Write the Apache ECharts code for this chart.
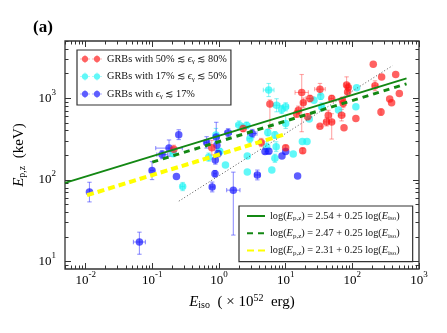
<!DOCTYPE html>
<html>
<head>
<meta charset="utf-8">
<title>Ep,z - Eiso</title>
<style>
  body { margin: 0; background: #ffffff; }
  #main { width: 447px; height: 333px; }
</style>
</head>
<body>
<div id="main"></div>
<script src="https://cdn.jsdelivr.net/npm/echarts@6/dist/echarts.min.js"></script>
<script>
// each row: [Eiso (1e52 erg), Ep,z (keV), x error (dex), y error down (dex), y error up (dex)]
var redGrbs = [
  [0.21, 237, 0, 0.05, 0.05], [0.78, 248, 0, 0.09, 0.09], [2.3, 427, 0, 0.04, 0.04],
  [4.3, 287, 0.03, 0.05, 0.05], [5.8, 850, 0, 0.3, 0.05], [10, 248, 0, 0.03, 0.03],
  [15.5, 714, 0.03, 0.05, 0.05], [14.6, 640, 0, 0.04, 0.04], [17.4, 1175, 0.1, 0.48, 0.22],
  [18.0, 228, 0, 0.03, 0.03], [18.4, 877, 0.03, 0.06, 0.06], [21.4, 592, 0, 0.04, 0.04],
  [23.1, 990, 0.06, 0.04, 0.04], [32.7, 1290, 0.08, 0.07, 0.07], [32.7, 454, 0.03, 0, 0],
  [41, 513, 0.04, 0.05, 0.05], [43.6, 620, 0, 0.06, 0.06], [49, 513, 0.04, 0.21, 0.1],
  [49, 990, 0.03, 0.04, 0.04], [69, 620, 0.05, 0.07, 0.07], [73, 861, 0.03, 0.05, 0.05],
  [75, 434, 0, 0, 0], [82, 1450, 0.03, 0.1, 0.1], [87, 1350, 0.03, 0.05, 0.05],
  [85, 1195, 0, 0.05, 0.05], [71, 946, 0, 0, 0], [113, 565, 0, 0, 0], [206, 2600, 0, 0, 0],
  [219, 1420, 0.04, 0.06, 0.06], [275, 1820, 0, 0, 0], [269, 676, 0, 0.04, 0.04],
  [363, 980, 0, 0, 0], [388, 877, 0, 0, 0], [447, 1950, 0, 0, 0], [507, 1140, 0, 0, 0]
];
var cyanGrbs = [
  [0.206, 211, 0.04, 0.04, 0.04], [0.285, 83, 0.03, 0.05, 0.05], [0.70, 190, 0, 0.05, 0.05],
  [0.90, 355, 0, 0.08, 0.08], [1.03, 222, 0.03, 0.04, 0.04], [1.25, 152, 0, 0, 0],
  [2.0, 470, 0.05, 0.05, 0.05], [2.6, 465, 0.05, 0.04, 0.04], [2.66, 125, 0, 0, 0],
  [2.66, 196, 0, 0, 0], [2.9, 320, 0.03, 0.05, 0.05], [5.56, 1260, 0.08, 0.08, 0.08],
  [5.4, 380, 0, 0.04, 0.04], [5.2, 255, 0, 0.06, 0.06], [6.2, 132, 0, 0, 0],
  [6.9, 184, 0, 0.05, 0.05], [7.2, 255, 0, 0.06, 0.06], [6.9, 355, 0, 0.04, 0.04],
  [7.3, 820, 0.05, 0.08, 0.08], [8.7, 728, 0, 0.05, 0.05], [10, 785, 0.04, 0.05, 0.05],
  [10, 490, 0, 0.06, 0.1], [13, 207, 0, 0, 0], [17.8, 295, 0, 0, 0], [20.9, 295, 0, 0, 0],
  [22.6, 555, 0, 0, 0], [26.6, 945, 0, 0, 0], [33.5, 1057, 0, 0.04, 0.04],
  [34.7, 780, 0.03, 0.05, 0.05], [62, 715, 0, 0, 0], [113, 785, 0, 0, 0], [116, 1340, 0, 0, 0]
];
var blueGrbs = [
  [0.0114, 71, 0, 0.12, 0.12], [0.064, 17.4, 0.09, 0.15, 0.12], [0.099, 130, 0.03, 0.11, 0.11],
  [0.140, 204, 0.08, 0.05, 0.05], [0.178, 245, 0.2, 0.1, 0.1], [0.230, 110, 0, 0, 0],
  [0.249, 358, 0, 0.06, 0.06], [0.652, 288, 0.03, 0.07, 0.07], [0.79, 82, 0.03, 0.06, 0.06],
  [0.87, 119, 0.02, 0.04, 0.04], [0.91, 335, 0.04, 0.16, 0.18], [0.88, 175, 0, 0.05, 0.05],
  [0.97, 210, 0.02, 0.04, 0.04], [0.93, 265, 0, 0, 0], [1.64, 75, 0.1, 0.55, 0.22],
  [1.37, 378, 0.05, 0.05, 0.05], [3.16, 370, 0.07, 0.05, 0.05], [3.76, 115, 0.04, 0.06, 0.06],
  [4.9, 222, 0, 0.03, 0.03], [5.6, 224, 0, 0.03, 0.03], [8.8, 196, 0, 0, 0],
  [10.0, 222, 0, 0, 0], [15.1, 112, 0, 0, 0]
];

var groupNames = ['GRBs with 50% ≲ ϵγ ≲ 80%', 'GRBs with 17% ≲ ϵγ ≲ 50%', 'GRBs with ϵγ ≲ 17%'];
var groupLabels = [
  'GRBs with 50% ≲ {e|ϵ}{sub|γ} ≲ 80%',
  'GRBs with 17% ≲ {e|ϵ}{sub|γ} ≲ 50%',
  'GRBs with {e|ϵ}{sub|γ} ≲ 17%'
];

// fitted relations, end points
var fitNames = ['fit 2.54', 'fit 2.47', 'fit 2.31'];
var fitLabels = [
  'log({i|E}{sub|p,z}) = 2.54 + 0.25 log({i|E}{sub|iso})',
  'log({i|E}{sub|p,z}) = 2.47 + 0.25 log({i|E}{sub|iso})',
  'log({i|E}{sub|p,z}) = 2.31 + 0.25 log({i|E}{sub|iso})'
];
var fitSolid = [[0.0049, 92], [650, 1750]];
var fitDashed = [[0.1, 165], [650, 1500]];
var fitYellow = [[0.0105, 65], [10, 365]];
var dottedLine = [[0.25, 55], [400, 2500]];

var xDecades = [-2, -1, 0, 1, 2, 3];
var yDecades = [1, 2, 3];
var xRange = [-2.31, 3.0];
var yRange = [0.91, 3.70];

var serif = 'Liberation Serif';

function toLog(rows) {
  return rows.map(function (r) {
    return [Math.log10(r[0]), Math.log10(r[1])].concat(r.slice(2));
  });
}

function minorTicks(range) {
  var out = [];
  for (var n = Math.floor(range[0]) - 1; n <= Math.ceil(range[1]); n++) {
    for (var k = 2; k <= 9; k++) {
      var v = n + Math.log10(k);
      if (v > range[0] && v < range[1]) out.push(v);
    }
  }
  return out;
}

var powRich = {
  b: { fontFamily: serif, fontSize: 13, color: '#000', lineHeight: 13 },
  sup: { fontFamily: serif, fontSize: 9, color: '#000', padding: [0, 0, 12, 0] }
};
function powLabel(v) {
  return '{b|10}{sup|' + Math.round(v) + '}';
}

function makeAxis(dim, pos, range, ticks, len, labels, extra) {
  var ax = {
    type: 'value', position: pos, min: range[0], max: range[1],
    axisLine: { show: false, onZero: false }, splitLine: { show: false },
    axisTick: { show: true, inside: true, length: len, customValues: ticks,
      lineStyle: { color: '#333', width: 1 } },
    axisLabel: { show: false }
  };
  if (labels) {
    ax.axisLabel = { show: true, customValues: ticks, formatter: powLabel, rich: powRich,
      margin: dim === 'x' ? 1 : 9 };
  }
  return Object.assign(ax, extra || {});
}

function errorBars(color) {
  return function (params, api) {
    var lx = api.value(0), ly = api.value(1);
    var dx = api.value(2), dlo = api.value(3), dhi = api.value(4);
    var style = { stroke: color, lineWidth: 1.1, fill: null };
    var cap = 2.2;
    var parts = [];
    function seg(p, q) {
      parts.push({ type: 'line', shape: { x1: p[0], y1: p[1], x2: q[0], y2: q[1] }, style: style });
    }
    if (dx > 0) {
      var l = api.coord([lx - dx, ly]), r = api.coord([lx + dx, ly]);
      seg(l, r);
      seg([l[0], l[1] - cap], [l[0], l[1] + cap]);
      seg([r[0], r[1] - cap], [r[0], r[1] + cap]);
    }
    if (dlo > 0 || dhi > 0) {
      var b = api.coord([lx, ly - dlo]), t = api.coord([lx, ly + dhi]);
      seg(b, t);
      seg([b[0] - cap, b[1]], [b[0] + cap, b[1]]);
      seg([t[0] - cap, t[1]], [t[0] + cap, t[1]]);
    }
    return { type: 'group', children: parts };
  };
}

var pointColors = ['rgba(255,20,20,0.84)', 'rgba(20,245,245,0.84)', 'rgba(15,15,255,0.84)'];
var barColors = ['rgba(255,60,60,0.45)', 'rgba(0,230,230,0.45)', 'rgba(40,40,255,0.5)'];
var groups = [redGrbs, cyanGrbs, blueGrbs];

var series = [];
// cyan under blue under red
[1, 2, 0].forEach(function (g) {
  series.push({
    type: 'custom', renderItem: errorBars(barColors[g]), data: toLog(groups[g]),
    encode: { x: 0, y: 1 }, z: 2, silent: true
  });
  series.push({
    name: groupNames[g], type: 'scatter', data: toLog(groups[g]),
    symbol: 'circle', symbolSize: 7.5, z: 3,
    itemStyle: { color: pointColors[g] }
  });
});

function lineSeries(name, pts, style) {
  return {
    name: name, type: 'line', data: toLog(pts), symbol: 'none', z: 4, silent: true,
    lineStyle: style, itemStyle: { color: style.color }
  };
}
series.push(lineSeries('dotted', dottedLine, { color: '#555', width: 1, type: [1, 2.2] }));
series.push(lineSeries(fitNames[0], fitSolid, { color: '#138813', width: 2 }));
series.push(lineSeries(fitNames[1], fitDashed, { color: '#138813', width: 3, type: [6, 5] }));
series.push(lineSeries(fitNames[2], fitYellow, { color: '#ffff00', width: 4, type: [7, 4] }));

var legendText = {
  fontFamily: serif, fontSize: 10.3, color: '#111', lineHeight: 14,
  rich: {
    e: { fontFamily: serif, fontStyle: 'italic', fontSize: 10.3, color: '#111', lineHeight: 14 },
    i: { fontFamily: serif, fontStyle: 'italic', fontSize: 10.3, color: '#111', lineHeight: 14 },
    sub: { fontFamily: serif, fontSize: 7, color: '#111', padding: [5, 0, 0, 0], lineHeight: 14 }
  }
};

// two markers with error bars, circles as bezier curves
var markerIcon = 'path://M0,3.65h10v0.7h-10z M4.65,0h0.7v8h-0.7z M12,3.65h10v0.7h-10z M16.65,0h0.7v8h-0.7z ' +
  'M1.8,4C1.8,2.233 3.233,0.8 5,0.8C6.767,0.8 8.2,2.233 8.2,4C8.2,5.767 6.767,7.2 5,7.2C3.233,7.2 1.8,5.767 1.8,4z ' +
  'M13.8,4C13.8,2.233 15.233,0.8 17,0.8C18.767,0.8 20.2,2.233 20.2,4C20.2,5.767 18.767,7.2 17,7.2C15.233,7.2 13.8,5.767 13.8,4z';

var option = {
  animation: false,
  backgroundColor: '#ffffff',
  title: {
    text: '(a)', left: 28, top: 14,
    textStyle: { fontFamily: serif, fontWeight: 'bold', fontSize: 17, color: '#000' }
  },
  grid: {
    left: 65, right: 28, top: 41, bottom: 64,
    show: true, borderColor: '#333', borderWidth: 1.3, backgroundColor: 'transparent'
  },
  legend: [{
    orient: 'vertical', left: 77, top: 50, selectedMode: false,
    data: groupNames, icon: markerIcon, itemWidth: 22, itemHeight: 8, itemGap: 3.5,
    padding: [2, 4, 4, 3], borderColor: '#333', borderWidth: 1.2, backgroundColor: '#fff',
    textStyle: legendText,
    formatter: function (name) { return groupLabels[groupNames.indexOf(name)]; }
  }, {
    orient: 'vertical', left: 239, top: 206, selectedMode: false,
    data: fitNames, itemWidth: 18, itemHeight: 8, itemGap: 3.3,
    itemStyle: { opacity: 0 },
    padding: [3, 13, 4, 7], borderColor: '#333', borderWidth: 1.2, backgroundColor: '#fff',
    textStyle: legendText,
    formatter: function (name) { return fitLabels[fitNames.indexOf(name)]; }
  }],
  xAxis: [
    makeAxis('x', 'bottom', xRange, xDecades, 6, true, {
      name: '{i|E}{sub|iso}{n|  ( × 10}{sup|52}{n|  erg)}', nameLocation: 'middle', nameGap: 24,
      nameTextStyle: {
        rich: {
          i: { fontFamily: serif, fontStyle: 'italic', fontSize: 15, color: '#000', lineHeight: 15 },
          n: { fontFamily: serif, fontSize: 15, color: '#000', lineHeight: 15 },
          sub: { fontFamily: serif, fontSize: 10, color: '#000', padding: [7, 0, 0, 0] },
          sup: { fontFamily: serif, fontSize: 10, color: '#000', padding: [0, 0, 8, 0] }
        }
      }
    }),
    makeAxis('x', 'bottom', xRange, minorTicks(xRange), 3.5, false),
    makeAxis('x', 'top', xRange, xDecades, 6, false),
    makeAxis('x', 'top', xRange, minorTicks(xRange), 3.5, false)
  ],
  yAxis: [
    makeAxis('y', 'left', yRange, yDecades, 6, true, {
      name: '{i|E}{sub|p,z}{n|  (keV)}', nameLocation: 'middle', nameGap: 21, nameRotate: 90,
      nameTextStyle: {
        rich: {
          i: { fontFamily: serif, fontStyle: 'italic', fontSize: 15, color: '#000', lineHeight: 15 },
          n: { fontFamily: serif, fontSize: 15, color: '#000', lineHeight: 15 },
          sub: { fontFamily: serif, fontSize: 10, color: '#000', padding: [7, 0, 0, 0] }
        }
      }
    }),
    makeAxis('y', 'left', yRange, minorTicks(yRange), 3.5, false),
    makeAxis('y', 'right', yRange, yDecades, 6, false),
    makeAxis('y', 'right', yRange, minorTicks(yRange), 3.5, false)
  ],
  series: series
};

var myChart = echarts.init(document.getElementById('main'));
myChart.setOption(option);
</script>
</body>
</html>
